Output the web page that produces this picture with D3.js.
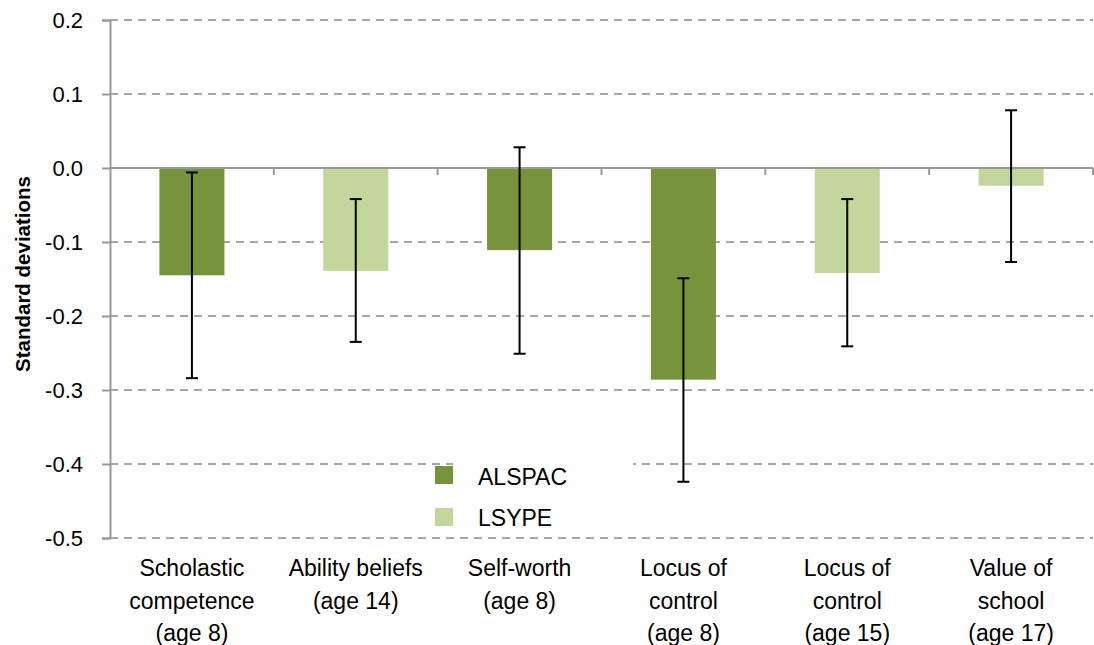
<!DOCTYPE html>
<html>
<head>
<meta charset="utf-8">
<script src="https://cdn.jsdelivr.net/npm/d3@7"></script>
<style>
  html, body { margin: 0; padding: 0; background: #fff; }
  svg { display: block; font-family: "Liberation Sans", Arial, sans-serif; }
</style>
</head>
<body>
<svg id="chart" width="1094" height="645"></svg>
<script>
// ---- Data ----
const categories = [
  ["Scholastic", "competence", "(age 8)"],
  ["Ability beliefs", "(age 14)"],
  ["Self-worth", "(age 8)"],
  ["Locus of", "control", "(age 8)"],
  ["Locus of", "control", "(age 15)"],
  ["Value of", "school", "(age 17)"]
];
const studies = ["ALSPAC", "LSYPE"];
const seriesForBar = ["ALSPAC", "LSYPE", "ALSPAC", "ALSPAC", "LSYPE", "LSYPE"];
const values = [-0.145, -0.139, -0.111, -0.286, -0.142, -0.024];
const errLow = [-0.284, -0.235, -0.251, -0.424, -0.241, -0.127];
const errHigh = [-0.006, -0.042, 0.028, -0.149, -0.042, 0.078];
const yTicks = [0.2, 0.1, 0.0, -0.1, -0.2, -0.3, -0.4, -0.5];
const colors = { ALSPAC: "#77933C", LSYPE: "#C3D69B" };

// ---- Layout ----
const svg = d3.select("#chart");
const mLeft = 110, mRight = 1093, mTop = 20, mBottom = 538;

const x = d3.scaleBand().domain(d3.range(categories.length)).range([mLeft, mRight]).padding(0);
const y = d3.scaleLinear().domain([-0.5, 0.2]).range([mBottom, mTop]);
const barW = x.bandwidth() * 0.397;

// gridlines
const grid = svg.append("g");
grid.selectAll("line").data(yTicks.filter(d => d !== 0)).join("line")
  .attr("x1", mLeft).attr("x2", mRight)
  .attr("y1", d => y(d)).attr("y2", d => y(d))
  .attr("stroke", "#888").attr("stroke-width", 1.4)
  .attr("stroke-dasharray", "8,6");

// y axis
const yAxis = d3.axisLeft(y).tickValues(yTicks).tickSize(8).tickPadding(19);
const ya = svg.append("g").attr("transform", `translate(${mLeft},0)`).call(yAxis);
ya.select(".domain").attr("stroke", "#999").attr("stroke-width", 2);
ya.selectAll(".tick line").attr("stroke", "#999").attr("stroke-width", 2);
ya.selectAll(".tick text").attr("font-size", 22).attr("fill", "#000")
  .attr("font-family", "'Liberation Sans', Arial, sans-serif")
  .text(d => d3.format(".1f")(d).replace("\u2212", "-"));

// bars
svg.append("g").selectAll("rect").data(values).join("rect")
  .attr("x", (d, i) => x(i) + x.bandwidth() / 2 - barW / 2)
  .attr("width", barW)
  .attr("y", d => Math.min(y(d), y(0)))
  .attr("height", d => Math.abs(y(d) - y(0)))
  .attr("fill", (d, i) => colors[seriesForBar[i]]);

// zero axis line + category ticks
svg.append("line").attr("x1", mLeft).attr("x2", mRight).attr("y1", y(0)).attr("y2", y(0))
  .attr("stroke", "#999").attr("stroke-width", 2);
const bounds = d3.range(categories.length + 1).map(i => mLeft + i * x.bandwidth());
svg.append("g").selectAll("line").data(bounds.slice(1)).join("line")
  .attr("x1", d => d).attr("x2", d => d)
  .attr("y1", y(0)).attr("y2", y(0) + 7)
  .attr("stroke", "#999").attr("stroke-width", 2);

// error bars
const eb = svg.append("g").attr("stroke", "#000").attr("stroke-width", 2);
values.forEach((v, i) => {
  const cx = x(i) + x.bandwidth() / 2;
  eb.append("line").attr("x1", cx).attr("x2", cx).attr("y1", y(errHigh[i])).attr("y2", y(errLow[i]));
  eb.append("line").attr("x1", cx - 6).attr("x2", cx + 6).attr("y1", y(errHigh[i])).attr("y2", y(errHigh[i]));
  eb.append("line").attr("x1", cx - 6).attr("x2", cx + 6).attr("y1", y(errLow[i])).attr("y2", y(errLow[i]));
});

// category labels
const lab = svg.append("g");
categories.forEach((lines, i) => {
  const cx = x(i) + x.bandwidth() / 2;
  const t = lab.append("text").attr("text-anchor", "middle").attr("font-size", 23).attr("fill", "#000");
  lines.forEach((s, j) => {
    t.append("tspan").attr("x", cx).attr("y", 576 + j * 32.5).text(s);
  });
});

// y axis title
svg.append("text")
  .attr("transform", "translate(30,274) rotate(-90)")
  .attr("text-anchor", "middle")
  .attr("font-size", 20.5).attr("font-weight", "bold").attr("fill", "#000")
  .text("Standard deviations");

// legend
const lg = svg.append("g");
lg.append("rect").attr("x", 453).attr("y", 456).attr("width", 180).attr("height", 76).attr("fill", "#fff");
studies.forEach((s, i) => {
  lg.append("rect").attr("x", 435).attr("y", 466 + i * 42).attr("width", 18).attr("height", 18).attr("fill", colors[s]);
  lg.append("text").attr("x", 478).attr("y", 485 + i * 41).attr("font-size", 23).attr("fill", "#000").text(s);
});
</script>
</body>
</html>
